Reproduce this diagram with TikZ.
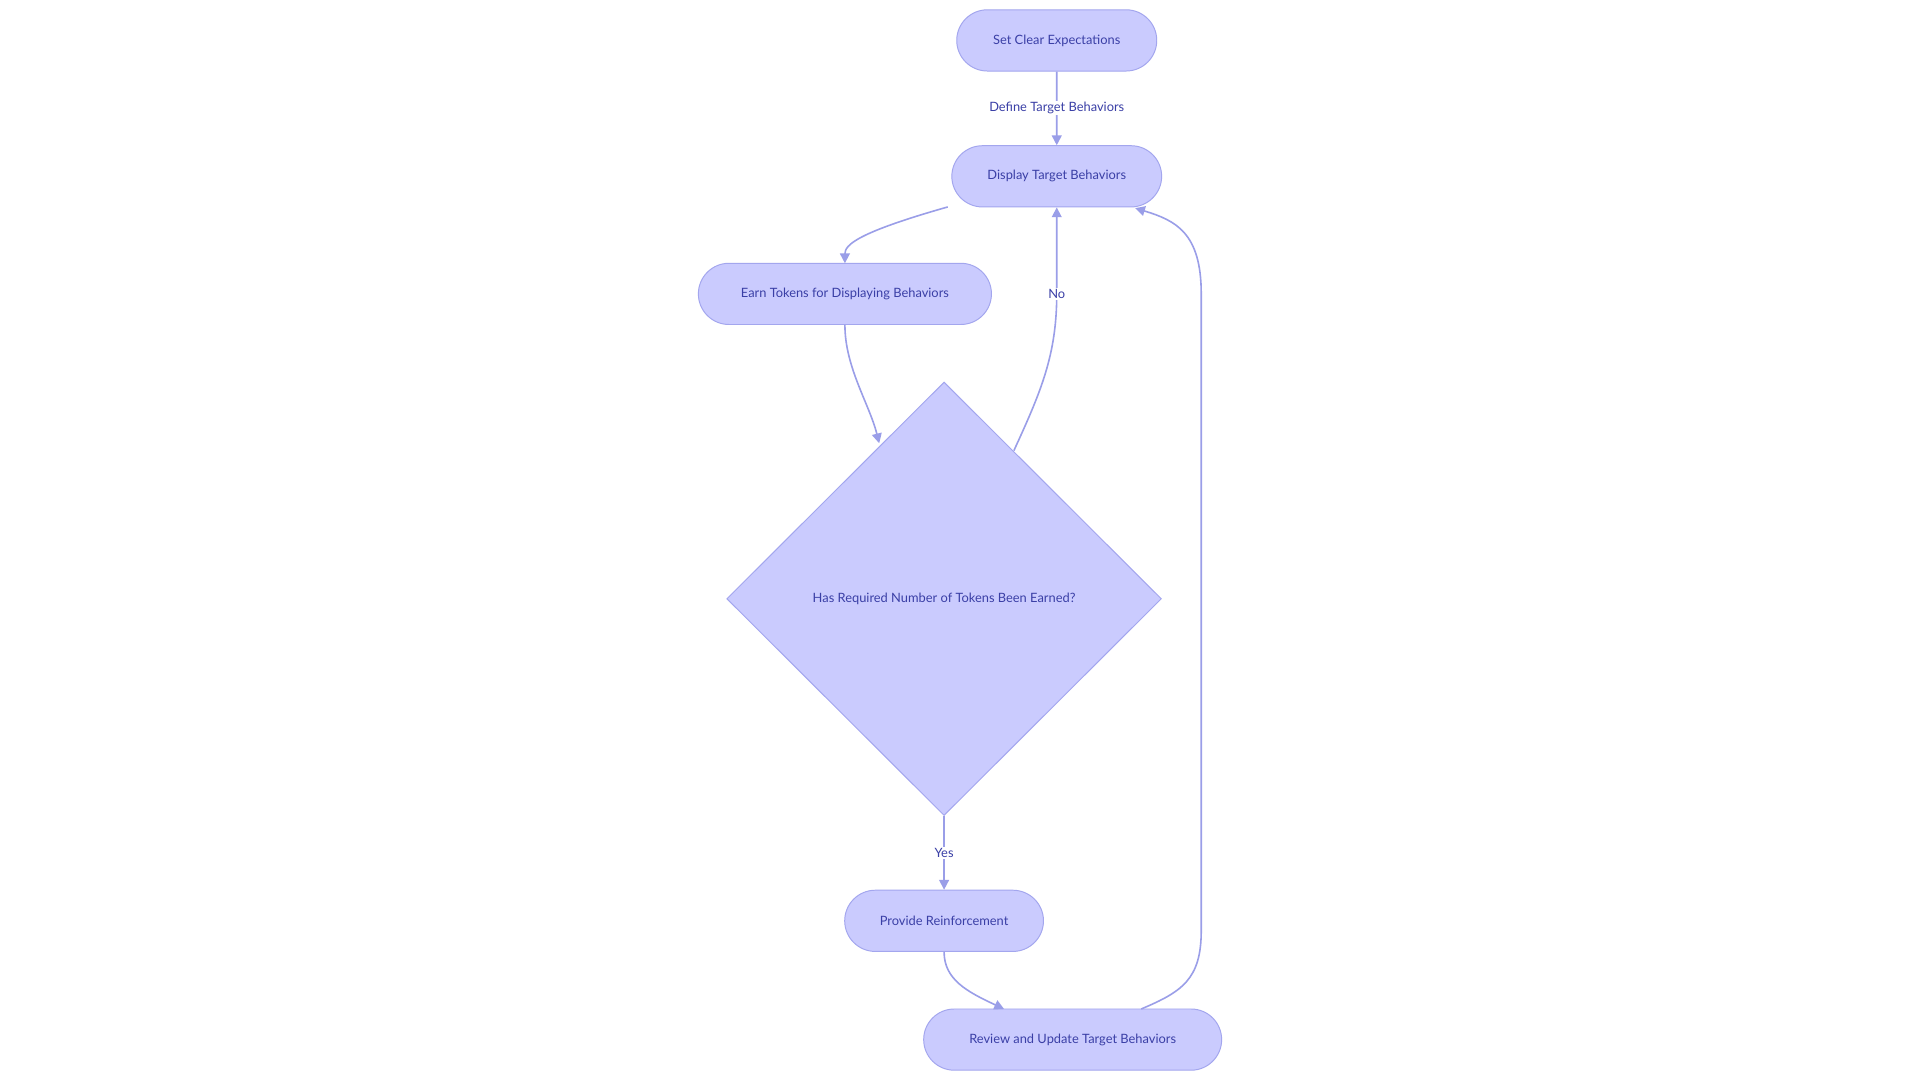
\documentclass[tikz,border=0pt]{standalone}
\usepackage{fontspec}
\setmainfont{Lato}
\usetikzlibrary{shapes.geometric,arrows.meta}
\definecolor{fillc}{HTML}{CACBFE}
\definecolor{strokec}{HTML}{A3A6EE}
\definecolor{textc}{HTML}{3A3FA6}
\definecolor{edgec}{HTML}{9A9EE8}
\tikzset{
  term/.style={rounded rectangle, draw=strokec, fill=fillc, text=textc, minimum height=50pt, font=\fontsize{10.5}{12}\selectfont, line width=0.8pt},
  dec/.style={diamond, draw=strokec, fill=fillc, text=textc, font=\fontsize{10.5}{12}\selectfont, minimum width=355pt, minimum height=354pt, inner sep=0pt, line width=0.8pt},
  conn/.style={draw=edgec, line width=1.3pt, -{Triangle[length=8pt,width=8pt]}},
  lbl/.style={fill=white, text=textc, font=\fontsize{10.5}{12}\selectfont, inner sep=1pt}
}
\usetikzlibrary{shapes.misc}
\begin{document}
\begin{tikzpicture}[x=1pt,y=-1pt]
\useasboundingbox (0,0) rectangle (1568,880);
\fill[white] (0,0) rectangle (1568,880);
\node[term, minimum width=170pt] (a) at (863,33) {Set Clear Expectations};
\node[term, minimum width=178pt] (b) at (863,144) {Display Target Behaviors};
\node[term, minimum width=246pt] (c) at (690,240) {Earn Tokens for Displaying Behaviors};
\node[dec] (d) at (771,489) {Has Required Number of Tokens Been Earned?};
\node[term, minimum width=169pt] (e) at (771,752) {Provide Reinforcement};
\node[term, minimum width=250pt] (f) at (876,849) {Review and Update Target Behaviors};
\coordinate (b1) at (774,169);
\coordinate (d1) at (828,368);
\coordinate (d2) at (718,362);
\coordinate (f1) at (932,824);
\coordinate (b2) at (927,170);
\coordinate (f2) at (820,824);
\draw[conn] (a) -- node[lbl] (la) {Define Target Behaviors} (b);
\draw[conn] (b1) .. controls (700,190) and (690,200) .. (c.south |- 0,215);
\draw[conn] (c.south) .. controls (690,300) and (710,330) .. (d2);
\draw[conn] (d1) .. controls (850,320) and (863,290) .. (863,240) node[lbl] (ln) {No} -- (b.south);
\draw[conn] (d.south) -- node[lbl] (ly) {Yes} (e.north);
\draw[conn] (e.south) .. controls (771,800) and (790,810) .. (f2);
\draw[conn] (f1) .. controls (965,810) and (981,800) .. (981,760) -- (981,240) .. controls (981,190) and (960,180) .. (b2);
\end{tikzpicture}
\end{document}
